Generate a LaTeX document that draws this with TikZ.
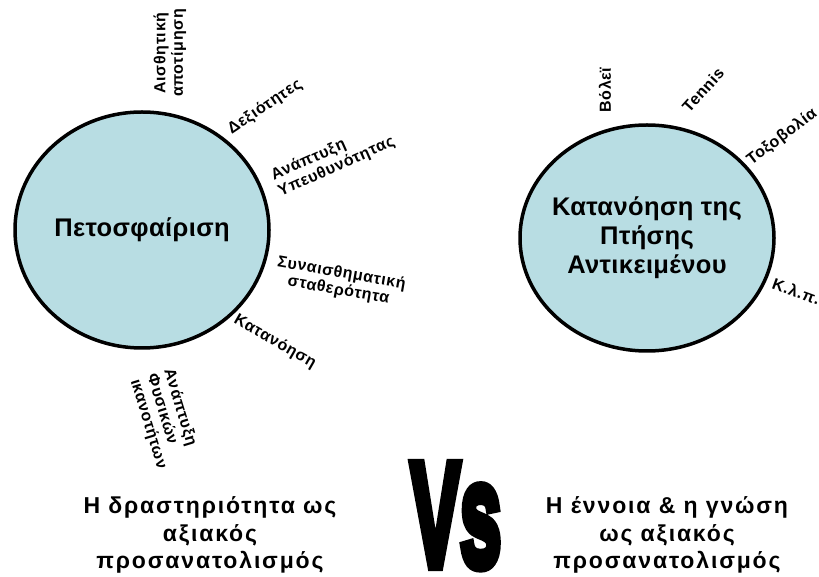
\documentclass[tikz,border=0pt]{standalone}
\usepackage{fontspec}
\setmainfont{Liberation Sans}
\newfontfamily\tagfont{Liberation Sans}[LetterSpace=4]
\newfontfamily\titlefont{Liberation Sans}[LetterSpace=1.5]
\newfontfamily\capfont{Liberation Sans}[LetterSpace=8]
\newfontfamily\vsfont{Liberation Sans Bold}[FakeBold=7]
\usetikzlibrary{shapes.geometric}
\definecolor{ballblue}{RGB}{184,221,227}

\begin{document}
\begin{tikzpicture}[x=1pt,y=1pt,
                    ball/.style={shape=ellipse,fill=ballblue,draw=black,line width=3.5pt,inner sep=0pt},
                    title/.style={font=\titlefont\bfseries\fontsize{25.5}{29}\selectfont,align=center},
                    tag/.style={font=\tagfont\bfseries\fontsize{16}{17.5}\selectfont,align=center},
                    caption/.style={font=\capfont\bfseries\fontsize{23}{27.5}\selectfont,align=center}]
  \useasboundingbox (0,0) rectangle (819,576);

  \node[ball,minimum width=254pt,minimum height=236pt] (P) at (142,346) {};
  \node[ball,minimum width=254pt,minimum height=226pt] (K) at (647,338) {};
  \node[title] (Pt) at (P) {Πετοσφαίριση};
  \node[title] (Kt) at (K) {Κατανόηση της\\Πτήσης\\Αντικειμένου};

  \node[tag,rotate=90] (p1) at (170,523) {Αισθητική\\αποτίμηση};
  \node[tag,rotate=34] (p2) at (265,469) {Δεξιότητες};
  \node[tag,rotate=24,align=left] (p3) at (333,417) {Ανάπτυξη\\Υπευθυνότητας};
  \node[tag,rotate=-10] (p4) at (340,294) {Συναισθηματική\\σταθερότητα};
  \node[tag,rotate=-30] (p5) at (275,234) {Κατανόηση};
  \node[tag,rotate=-73,align=left] (p6) at (165,157) {Ανάπτυξη\\Φυσικών\\ικανοτήτων};

  \node[tag,rotate=90] (k1) at (605,486) {Βόλεϊ};
  \node[tag,rotate=48] (k2) at (703,486) {Tennis};
  \node[tag,rotate=37] (k3) at (782,439) {Τοξοβολία};
  \node[tag,rotate=-20,anchor=west,inner sep=0pt] (k4) at (773,293) {Κ.λ.π.};

  \node[caption] (L) at (210,41) {Η δραστηριότητα ως\\αξιακός\\προσανατολισμός};
  \node[caption] (R) at (667,41) {Η έννοια \& η γνώση\\ως αξιακός\\προσανατολισμός};
  \node[font=\vsfont\fontsize{148}{148}\selectfont,xscale=0.5,inner sep=0pt,text depth=0pt,anchor=base] (vs) at (456,10) {Vs};
\end{tikzpicture}
\end{document}
